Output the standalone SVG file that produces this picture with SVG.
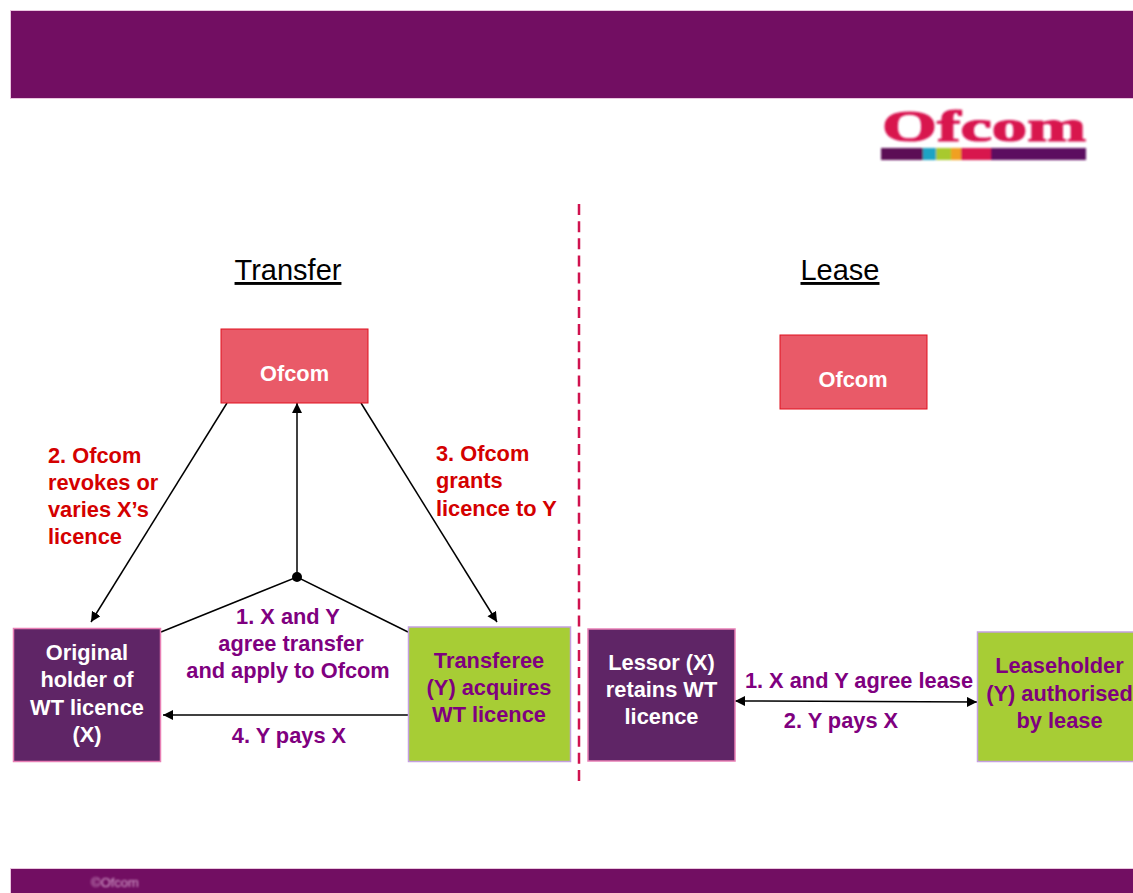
<svg xmlns="http://www.w3.org/2000/svg" width="1133" height="893" viewBox="0 0 1133 893">
<style>
text{font-family:"Liberation Sans",Arial,sans-serif;font-weight:700;font-size:21.8px;text-anchor:middle}
.w{fill:#fff}.p{fill:#7f007f}.r{fill:#d40000}
.l{text-anchor:start}
.h{font-weight:400;font-size:29px;fill:#000;text-decoration:underline}
.c{stroke:#000;stroke-width:1.5;fill:none}
.band{fill:#720e62;stroke:#e9c6df;stroke-width:1}
</style>
<defs>
<marker id="a" markerUnits="userSpaceOnUse" markerWidth="11" markerHeight="11" refX="10" refY="5" orient="auto-start-reverse"><path d="M0 0L10 5L0 10z" fill="#000"/></marker>
<filter id="soft" x="-5%" y="-20%" width="110%" height="140%"><feGaussianBlur stdDeviation="0.8"/></filter>
</defs>
<rect width="1133" height="893" fill="#fff"/>
<g id="header">
<rect class="band" x="10.500" y="10.500" width="1123" height="88"/>
<rect class="band" x="10.500" y="868.500" width="1123" height="25"/>
<text x="115" y="887" filter="url(#soft)" style="font-size:13px;font-weight:400;fill:#d9a8d0">©Ofcom</text>
</g>
<g id="logo" filter="url(#soft)">
<text x="984" y="141" textLength="204" lengthAdjust="spacingAndGlyphs" style="font-family:'Liberation Serif',serif;font-size:44px;fill:#d8124e;stroke:#d8124e;stroke-width:1.2">Ofcom</text>
<rect x="881" y="148" width="42" height="12" fill="#5b1055"/>
<rect x="923" y="148" width="13" height="12" fill="#1fa3c4"/>
<rect x="936" y="148" width="15" height="12" fill="#a8c92f"/>
<rect x="951" y="148" width="10" height="12" fill="#f0a020"/>
<rect x="961" y="148" width="30" height="12" fill="#d8124e"/>
<rect x="991" y="148" width="95" height="12" fill="#5b1060"/>
</g>
<line id="divider" x1="579" y1="204" x2="579" y2="781" stroke="#d0134f" stroke-width="2.5" stroke-dasharray="11 6.150"/>
<text class="h" x="288" y="280">Transfer</text>
<text class="h" x="840" y="280">Lease</text>
<g id="connectors">
<path class="c" d="M227 403L91 622" marker-end="url(#a)"/>
<path class="c" d="M361 403L497 622" marker-end="url(#a)"/>
<path class="c" d="M297 577V403" marker-end="url(#a)"/>
<path class="c" d="M161 632L297 577L408 632"/>
<circle cx="297" cy="577" r="5" fill="#000"/>
<path class="c" d="M408 715H163" marker-end="url(#a)"/>
<path class="c" d="M735 701L977 702" marker-start="url(#a)" marker-end="url(#a)"/>
</g>
<g id="ofcom-transfer"><rect x="221" y="329" width="147" height="74" fill="#e95a68" stroke="#e0101e"/><text class="w" x="294.500" y="381">Ofcom</text></g>
<g id="ofcom-lease"><rect x="780" y="335" width="147" height="74" fill="#e95a68" stroke="#e0101e"/><text class="w" x="853" y="387">Ofcom</text></g>
<g id="holder"><rect x="13.500" y="628.500" width="147" height="133" fill="#5f2566" stroke="#e87fb5" stroke-width="1.500"/>
<text class="w" x="87" y="660">Original</text><text class="w" x="87" y="687">holder of</text><text class="w" x="87" y="715">WT licence</text><text class="w" x="87" y="742">(X)</text></g>
<g id="transferee"><rect x="408.500" y="627" width="162" height="134.500" fill="#a7cd35" stroke="#c4a0e0" stroke-width="1.500"/>
<text class="p" x="489" y="668">Transferee</text><text class="p" x="489" y="695">(Y) acquires</text><text class="p" x="489" y="722">WT licence</text></g>
<g id="lessor"><rect x="588" y="629" width="147" height="132" fill="#5f2566" stroke="#e87fb5" stroke-width="1.500"/>
<text class="w" x="661.500" y="670">Lessor (X)</text><text class="w" x="661.500" y="697">retains WT</text><text class="w" x="661.500" y="724">licence</text></g>
<g id="leaseholder"><rect x="977.500" y="632" width="160" height="129.500" fill="#a7cd35" stroke="#c4a0e0" stroke-width="1.500"/>
<text class="p" x="1059.500" y="673">Leaseholder</text><text class="p" x="1059.500" y="701">(Y) authorised</text><text class="p" x="1059.500" y="728">by lease</text></g>
<g id="labels">
<text class="r l" x="48" y="463">2. Ofcom</text><text class="r l" x="48" y="490">revokes or</text><text class="r l" x="48" y="517">varies X’s</text><text class="r l" x="48" y="544">licence</text>
<text class="r l" x="436" y="461">3. Ofcom</text><text class="r l" x="436" y="488">grants</text><text class="r l" x="436" y="516">licence to Y</text>
<text class="p" x="288" y="624">1. X and Y</text><text class="p" x="291" y="651">agree transfer</text><text class="p" x="288" y="678">and apply to Ofcom</text>
<text class="p" x="289" y="743">4. Y pays X</text>
<text class="p" x="859" y="688">1. X and Y agree lease</text>
<text class="p" x="841" y="728">2. Y pays X</text>
</g>
</svg>
